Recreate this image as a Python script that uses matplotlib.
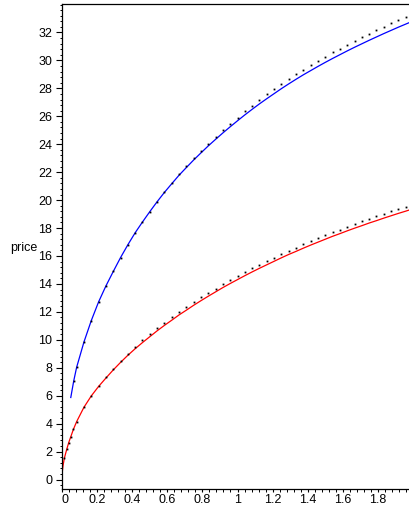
import matplotlib
matplotlib.use("Agg")
import matplotlib.pyplot as plt
from matplotlib.ticker import MultipleLocator, FuncFormatter

# ---- data ----
k_grid = [k / 24 for k in range(2, 49)]

blue_line_x = [0.05, 0.0667] + k_grid
blue_line_y = [5.87, 7.05,
               8.03, 9.84, 11.37, 12.71, 13.85, 14.88, 15.88, 16.80, 17.66, 18.43,
               19.17, 19.88, 20.55, 21.17, 21.78, 22.33, 22.87, 23.38, 23.88, 24.35,
               24.81, 25.25, 25.68, 26.10, 26.50, 26.89, 27.26, 27.62, 27.98, 28.32,
               28.65, 28.97, 29.27, 29.57, 29.86, 30.14, 30.41, 30.68, 30.94, 31.19,
               31.44, 31.68, 31.92, 32.15, 32.38, 32.60, 32.82]

blue_dot_x = [0.0667] + k_grid
blue_dot_y = [7.05,
              8.03, 9.84, 11.37, 12.71, 13.85, 14.90, 15.88, 16.80, 17.66, 18.43,
              19.17, 19.90, 20.58, 21.22, 21.85, 22.42, 22.98, 23.51, 24.03, 24.52,
              25.00, 25.46, 25.91, 26.35, 26.77, 27.18, 27.57, 27.95, 28.32, 28.68,
              29.02, 29.35, 29.67, 29.98, 30.28, 30.57, 30.85, 31.13, 31.40, 31.66,
              31.92, 32.17, 32.42, 32.66, 32.90, 33.13, 33.36]

red_line_x = [0.0, 0.002, 0.006, 0.0133, 0.027, 0.038, 0.05, 0.065] + k_grid
red_line_y = [0.0, 0.58, 1.00, 1.52, 2.16, 2.63, 3.06, 3.59,
              4.14, 5.17, 5.98, 6.66, 7.26, 7.84, 8.38, 8.89, 9.36, 9.80,
              10.22, 10.64, 11.03, 11.40, 11.78, 12.12, 12.47, 12.80, 13.12, 13.43,
              13.74, 14.03, 14.31, 14.59, 14.86, 15.12, 15.37, 15.62, 15.87, 16.11,
              16.33, 16.56, 16.78, 16.99, 17.20, 17.41, 17.60, 17.80, 17.99, 18.17,
              18.36, 18.53, 18.71, 18.88, 19.05, 19.21, 19.38]

red_dot_x = [0.0133, 0.027, 0.038, 0.05, 0.065] + k_grid
red_dot_y = [1.52, 2.16, 2.63, 3.06, 3.59,
             4.14, 5.17, 5.98, 6.69, 7.31, 7.91, 8.48, 9.01, 9.50, 9.96,
             10.40, 10.83, 11.23, 11.62, 12.00, 12.35, 12.70, 13.03, 13.36, 13.67,
             13.98, 14.27, 14.56, 14.84, 15.11, 15.37, 15.63, 15.88, 16.13, 16.37,
             16.60, 16.83, 17.05, 17.27, 17.48, 17.69, 17.89, 18.09, 18.28, 18.47,
             18.66, 18.84, 19.02, 19.20, 19.37, 19.54, 19.71]

x_ticks = [0, 0.2, 0.4, 0.6, 0.8, 1.0, 1.2, 1.4, 1.6, 1.8]
y_ticks = list(range(0, 33, 2))
y_label = "price"

# ---- figure ----
plt.rcParams['font.family'] = ['Liberation Sans', 'DejaVu Sans']
fig = plt.figure(figsize=(4.09, 5.08), dpi=100)
ax = fig.add_axes([62 / 409, 19 / 508, 351 / 409, 485 / 508])

ax.plot(blue_line_x, blue_line_y, color=(0, 0, 1), lw=0.9, solid_joinstyle='round')
ax.plot(red_line_x, red_line_y, color=(1, 0, 0), lw=0.9, solid_joinstyle='round')
ax.plot(blue_dot_x, blue_dot_y, ls='none', marker='s', ms=1.3, color='black', mew=0)
ax.plot(red_dot_x, red_dot_y, ls='none', marker='s', ms=1.3, color='black', mew=0)

ax.set_xlim(0, 2.0)
ax.set_ylim(-0.68, 34.04)

ax.spines['right'].set_visible(False)
for s in ['left', 'bottom', 'top']:
    ax.spines[s].set_linewidth(0.9)
    ax.spines[s].set_color('black')

ax.set_xticks(x_ticks)
ax.set_yticks(y_ticks)
ax.xaxis.set_major_formatter(FuncFormatter(lambda v, p: ('%g' % v)))
ax.xaxis.set_minor_locator(MultipleLocator(0.04))
ax.yaxis.set_minor_locator(MultipleLocator(0.4))
ax.tick_params(axis='y', which='major', direction='out', length=4, width=0.8,
               labelsize=9, pad=3, right=False)
ax.tick_params(axis='x', which='major', direction='out', length=2.5, width=0.8,
               labelsize=9, pad=1, top=False)
ax.tick_params(axis='both', which='minor', direction='out', length=1.8, width=0.7,
               top=False, right=False)

fig.canvas.draw()
ax.get_xticklabels()[0].set_horizontalalignment('left')

fig.text(10 / 409, 1 - 248 / 508, y_label, fontsize=9, ha='left', va='center')

fig.savefig("out.png", dpi=100)
